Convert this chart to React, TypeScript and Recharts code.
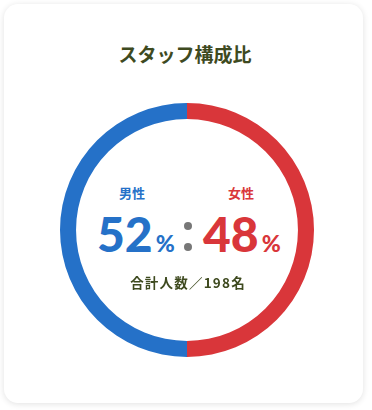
import React from 'react';
import { PieChart, Pie, Cell } from 'recharts';

// 構成比（表示値）
const labels = ['男性', '女性'];
const percents = [52, 48];
const colors = ['#2571c8', '#d9363a'];
// リングの分割（画像では上下でちょうど半分ずつ）
const ringShare = [50, 50];
const total = 198;

const ringData = labels.map((name, i) => ({ name, value: ringShare[i] }));

const font = '"Noto Sans CJK JP", "Noto Sans", sans-serif';
const numFont = 'Lato, "Noto Sans", sans-serif';

const Dot = ({ top }: { top: number }) => (
  <div
    style={{
      position: 'absolute',
      left: 184,
      top,
      width: 8,
      height: 8,
      borderRadius: 4,
      background: '#777',
    }}
  />
);

const App: React.FC = () => {
  return (
    <div style={{ position: 'fixed', left: 0, top: 0, width: 372, height: 410, background: '#ffffff', fontFamily: font }}>
      <div
        style={{
          position: 'absolute',
          left: 4,
          top: 4,
          width: 359,
          height: 399,
          borderRadius: 14,
          background: '#fff',
          boxShadow: '0 1px 6px rgba(0,0,0,0.12)',
        }}
      />
      <div
        style={{
          position: 'absolute',
          left: 0,
          top: 40,
          width: 370,
          textAlign: 'center',
          fontSize: 19,
          fontWeight: 700,
          color: '#3e4a1f',
          lineHeight: '28px',
        }}
      >
        スタッフ構成比
      </div>
      <div style={{ position: 'absolute', left: 0, top: 0 }}>
        <PieChart width={372} height={410} margin={{ top: 0, right: 0, bottom: 0, left: 0 }}>
          <Pie
            data={ringData}
            dataKey="value"
            cx={187}
            cy={230}
            innerRadius={111}
            outerRadius={127}
            startAngle={90}
            endAngle={450}
            paddingAngle={0}
            stroke="none"
            isAnimationActive={false}
          >
            {ringData.map((d, i) => (
              <Cell key={d.name} fill={colors[i]} />
            ))}
          </Pie>
        </PieChart>
      </div>
      {labels.map((name, i) => (
        <div
          key={name}
          style={{
            position: 'absolute',
            left: i === 0 ? 102 : 211,
            top: 184,
            width: 60,
            textAlign: 'center',
            fontSize: 13,
            fontWeight: 700,
            color: colors[i],
            lineHeight: '18px',
          }}
        >
          {name}
        </div>
      ))}
      {percents.map((p, i) => (
        <div
          key={i}
          style={{
            position: 'absolute',
            left: i === 0 ? 97 : 203,
            top: 214,
            height: 40,
            whiteSpace: 'nowrap',
            color: colors[i],
            fontWeight: 900,
            fontFamily: numFont,
            lineHeight: '40px',
          }}
        >
          <span style={{ display: 'inline-block', fontSize: 48, lineHeight: '40px', letterSpacing: 0 }}>{p}</span>
          <span style={{ display: 'inline-block', fontSize: 23, lineHeight: '22px', marginLeft: 3 }}>%</span>
        </div>
      ))}
      <Dot top={222} />
      <Dot top={243} />
      <div
        style={{
          position: 'absolute',
          left: 0,
          top: 272,
          width: 376,
          textAlign: 'center',
          fontSize: 13.5,
          fontWeight: 700,
          color: '#3e4a1f',
          lineHeight: '20px',
          letterSpacing: 1.2,
        }}
      >
        合計人数／{total}名
      </div>
    </div>
  );
};

export default App;
